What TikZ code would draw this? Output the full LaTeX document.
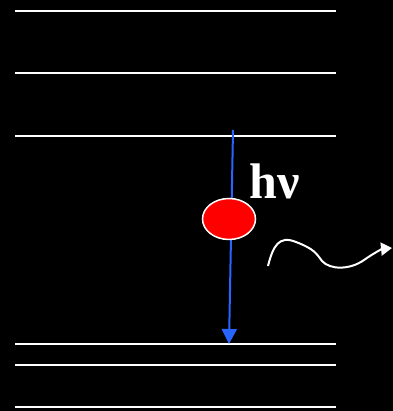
\documentclass[tikz,border=0pt]{standalone}
\usepackage{fontspec}
\setmainfont{Liberation Serif}
\usetikzlibrary{shapes.geometric,arrows.meta}
\begin{document}
\begin{tikzpicture}[x=1pt,y=1pt,
  level/.style={draw=white,line width=2pt},
  transition/.style={draw={rgb,255:red,40;green,100;blue,255},line width=2pt,-{Triangle[length=15pt,width=15pt]}},
  particle/.style={ellipse,draw=white,line width=1.5pt,fill=red,minimum width=53pt,minimum height=41pt,inner sep=0pt},
  photon/.style={draw=white,line width=2pt,-{Triangle[length=11pt,width=13pt]}}]
\useasboundingbox (0,0) rectangle (392,411);
\fill[black] (-3,-3) rectangle (396,414);
\foreach \y [count=\i] in {400,338,275,67,46,4}{
  \coordinate (L\i a) at (15,\y);
  \coordinate (L\i b) at (336,\y);
  \draw[level] (L\i a) -- (L\i b);
}
\coordinate (top) at (233,281);
\coordinate (bot) at (229,67);
\draw[transition] (top) -- (bot);
\node[particle] (e) at (229,192) {};
\node[text=white,font=\bfseries\fontsize{50}{54}\selectfont,anchor=base west] (hv) at (246,212) {hν};
\coordinate (w0) at (268,145);
\coordinate (w1) at (392,163);
\draw[photon] (w0) .. controls (273,165) and (279,176) .. (296,169)
  .. controls (314,162) and (316,158) .. (322,150)
  .. controls (330,141) and (350,141) .. (364,151)
  .. controls (374,158) and (382,162) .. (w1);
\end{tikzpicture}
\end{document}
